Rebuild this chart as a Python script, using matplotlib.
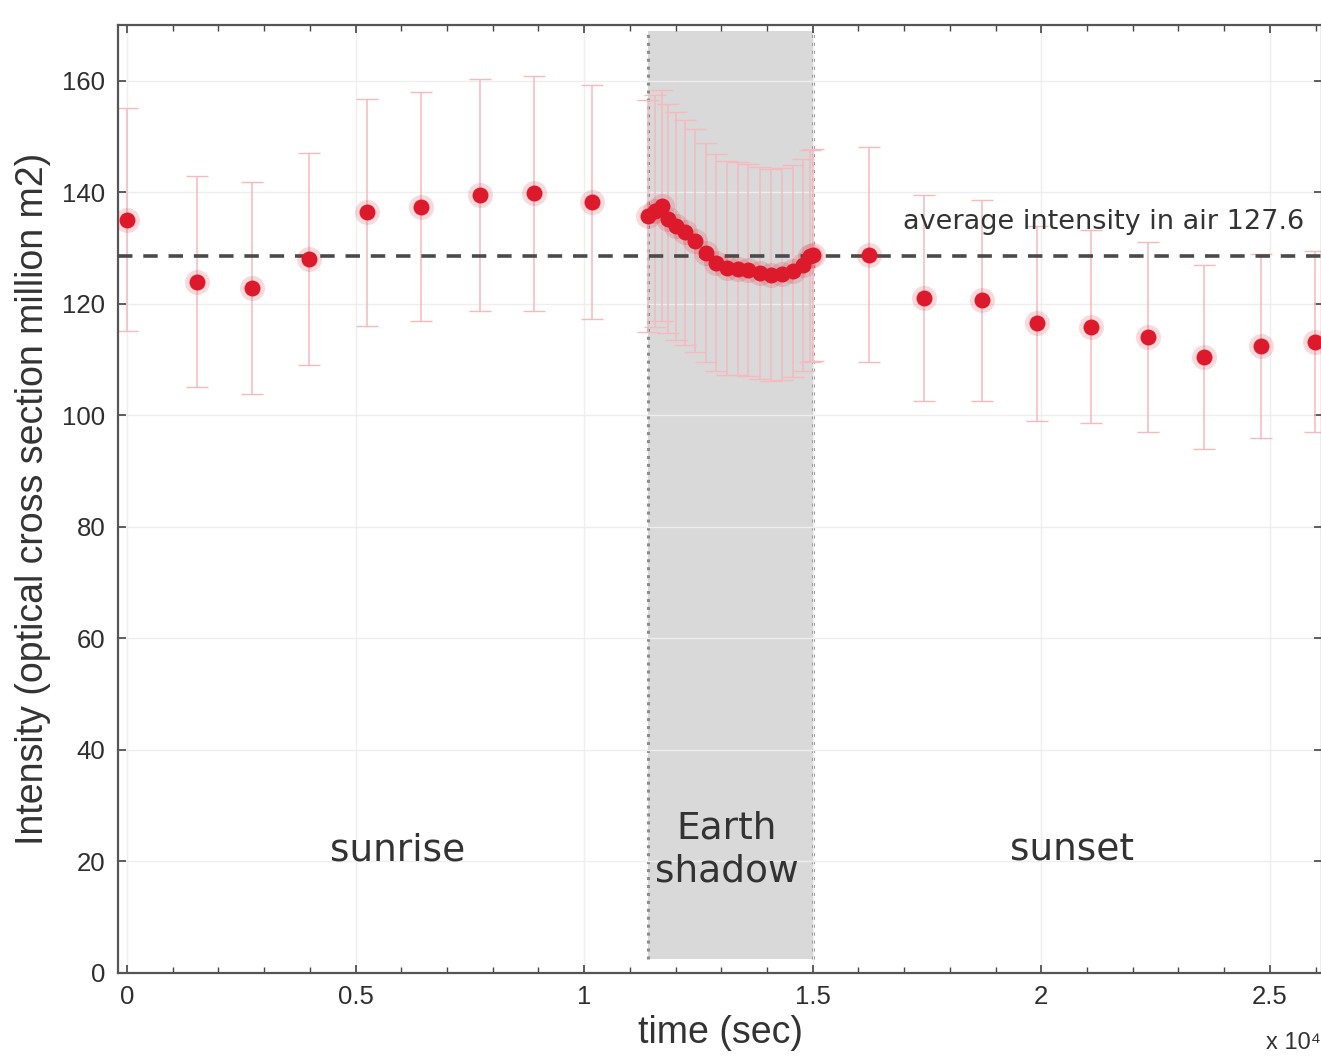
import matplotlib
matplotlib.use("Agg")
import matplotlib.pyplot as plt
from matplotlib.ticker import MultipleLocator

# ---- data (time in units of 1e4 s) ----
sunrise_t = [0.0, 0.153, 0.273, 0.398, 0.525, 0.643, 0.772, 0.890, 1.017]
sunrise_i = [135.1, 124.0, 122.9, 128.1, 136.4, 137.4, 139.6, 139.8, 138.3]
sunrise_e = [20.0, 19.0, 19.0, 19.0, 20.3, 20.5, 20.8, 21.0, 21.0]

shadow_t = [1.140, 1.155, 1.170, 1.183, 1.201, 1.220, 1.242, 1.266, 1.288,
            1.312, 1.336, 1.358, 1.385, 1.409, 1.433, 1.457, 1.479, 1.494]
shadow_i = [135.8, 136.7, 137.6, 135.3, 134.0, 132.8, 131.3, 129.2, 127.4,
            126.5, 126.3, 126.1, 125.6, 125.2, 125.4, 125.9, 127.0, 128.6]
shadow_e = [20.8, 20.8, 20.7, 20.6, 20.4, 20.2, 20.0, 19.7, 19.4,
            19.2, 19.1, 19.0, 19.0, 19.0, 19.0, 19.0, 19.0, 19.0]

sunset_t = [1.500, 1.623, 1.743, 1.870, 1.990, 2.109, 2.233, 2.356, 2.480, 2.598]
sunset_i = [128.8, 128.8, 121.1, 120.6, 116.5, 115.9, 114.1, 110.4, 112.5, 113.2]
sunset_e = [19.0, 19.3, 18.5, 18.0, 17.5, 17.3, 17.0, 16.5, 16.5, 16.2]

shadow_span = (1.14, 1.50)
avg_level = 128.6
avg_label = "average intensity in air 127.6"
region_labels = ["sunrise", "Earth\nshadow", "sunset"]
region_x = [0.593, 1.312, 2.067]

xticks = [0, 0.5, 1, 1.5, 2, 2.5]
xticklabels = ["0", "0.5", "1", "1.5", "2", "2.5"]
yticks = [0, 20, 40, 60, 80, 100, 120, 140, 160]

# ---- figure ----
W, H = 1321, 1057
fig = plt.figure(figsize=(W / 100, H / 100), dpi=100)
ax = fig.add_axes([118 / W, (H - 973) / H, (1322 - 118) / W, (973 - 25) / H])
ax.set_xlim(-0.0197, 2.614)
ax.set_ylim(0, 170)

ax.grid(True, which="major", color="#eeeeee", lw=1.0, zorder=0)

# shadow band
ax.fill_between(shadow_span, 2.5, 169, color="#d9d9d9", zorder=1, lw=0)
for xe in shadow_span:
    ax.plot([xe, xe], [2.5, 169], color="#8c8c8c", ls=(0, (1, 1.6)), lw=2.2, zorder=1.5)

# average line
ax.axhline(avg_level, color="#4a4a4a", ls=(0, (4, 3)), lw=2.6, zorder=3)

red = "#dd1a2b"
for t, v, e in [(sunrise_t, sunrise_i, sunrise_e),
                (shadow_t, shadow_i, shadow_e),
                (sunset_t, sunset_i, sunset_e)]:
    cont = ax.errorbar(t, v, yerr=e, fmt="none", ecolor="#f5b9bf", elinewidth=1.1,
                       capsize=8, capthick=1.0, zorder=2)
    for cl in cont[1]:
        cl.set_color("#d6d6d6")
    ax.plot(t, v, "o", color=red, ms=18, alpha=0.16, mec="none", zorder=4)
    ax.plot(t, v, "o", color=red, ms=11.5, mec="none", zorder=5)

# labels in plot
ax.text(1.697, 134.6, avg_label, fontsize=19.5, color="#333333",
        family="DejaVu Sans", va="center", ha="left", zorder=6)
for lab, x in zip(region_labels, region_x):
    ax.text(x, 22.0, lab, fontsize=27, color="#333333", family="DejaVu Sans",
            ha="center", va="center", linespacing=1.25, zorder=6)

# ticks
ax.set_xticks(xticks)
ax.set_xticklabels(xticklabels)
ax.set_yticks(yticks)
ax.xaxis.set_minor_locator(MultipleLocator(0.1))
ax.tick_params(which="both", direction="in", top=True, right=True,
               colors="#444444", labelcolor="#2e2e2e")
ax.tick_params(which="major", length=6, width=1.2, labelsize=18.5, pad=9)
ax.tick_params(which="minor", length=4, width=1.0)
for lbl in ax.get_xticklabels() + ax.get_yticklabels():
    lbl.set_family("Liberation Sans")
for s in ax.spines.values():
    s.set_color("#555555")
    s.set_linewidth(1.6)

ax.set_xlabel("time (sec)", fontsize=27, family="Liberation Sans", color="#333333", labelpad=4)
ax.set_ylabel("Intensity (optical cross section million m2)", fontsize=27,
              family="Liberation Sans", color="#333333", labelpad=8)

fig.text(1266 / W, 1 - 1043 / H, "x 10\u2074", fontsize=17,
         family=["Liberation Sans", "DejaVu Sans"], color="#333333", va="center", ha="left")

fig.savefig("out.png", dpi=100)
